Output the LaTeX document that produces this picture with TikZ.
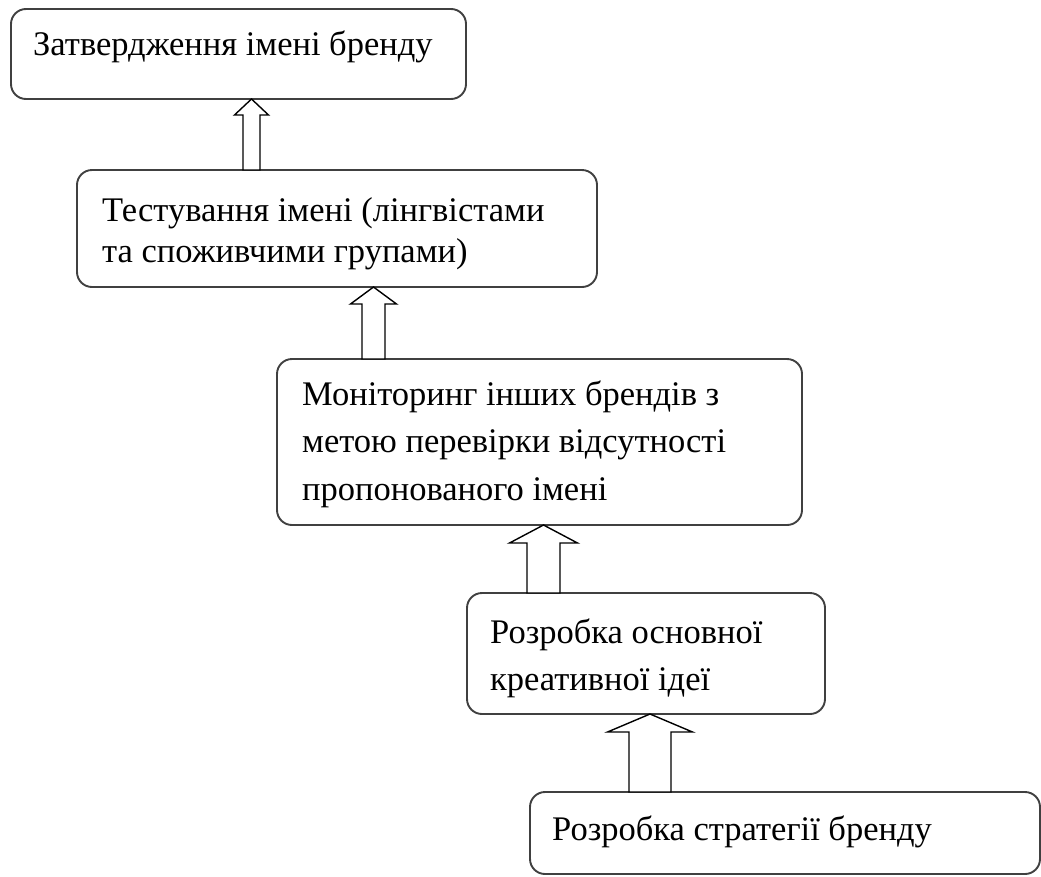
\documentclass[tikz,border=0pt]{standalone}
\usepackage{fontspec}
\setmainfont{Liberation Serif}
\usetikzlibrary{calc}
\tikzset{
  box/.style={draw=black!75, line width=1.9pt, rounded corners=15pt, inner sep=0pt, outer sep=0pt, anchor=north west, fill=white},
  txt/.style={anchor=base west, inner sep=0pt, font=\fontsize{34.5}{40}\selectfont, text=black},
  arr/.style={draw=black, line width=1.4pt, fill=white, line join=miter},
}
\newcommand\uparrowblock[6]{%
  \draw[arr] let \p1=(#2.south), \p2=(#3.north) in
    (#1pt-#4pt,\y2) -- (#1pt-#4pt,\y1-#6pt) -- (#1pt-#5pt,\y1-#6pt) -- (#1pt,\y1)
    -- (#1pt+#5pt,\y1-#6pt) -- (#1pt+#4pt,\y1-#6pt) -- (#1pt+#4pt,\y2) -- cycle;}
\begin{document}
\begin{tikzpicture}[x=1pt,y=-1pt]
\useasboundingbox[fill=white] (0,0) rectangle (1041,876);
\node[box, minimum width=455, minimum height=90] (b1) at (11,9) {};
\node[box, minimum width=520, minimum height=117] (b2) at (77,170) {};
\node[box, minimum width=525, minimum height=166] (b3) at (277,359) {};
\node[box, minimum width=358, minimum height=121] (b4) at (467,593) {};
\node[box, minimum width=510, minimum height=82] (b5) at (530,792) {};

\node[txt] (t1) at ($(b1.north west)+(22,46)$) {Затвердження імені бренду};
\node[txt] (t2a) at ($(b2.north west)+(25,51)$) {Тестування імені (лінгвістами};
\node[txt] (t2b) at ($(b2.north west)+(25,92)$) {та споживчими групами)};
\node[txt] (t3a) at ($(b3.north west)+(25,46)$) {Моніторинг інших брендів з};
\node[txt] (t3b) at ($(b3.north west)+(25,93)$) {метою перевірки відсутності};
\node[txt] (t3c) at ($(b3.north west)+(25,141)$) {пропонованого імені};
\node[txt] (t4a) at ($(b4.north west)+(23,50)$) {Розробка основної};
\node[txt] (t4b) at ($(b4.north west)+(23,97)$) {креативної ідеї};
\node[txt] (t5) at ($(b5.north west)+(22,48)$) {Розробка стратегії бренду};

\uparrowblock{251.5}{b1}{b2}{8.5}{17}{16}
\uparrowblock{373.5}{b2}{b3}{11.5}{23}{17}
\uparrowblock{543.5}{b3}{b4}{16.5}{34}{18}
\uparrowblock{650}{b4}{b5}{21}{42.5}{18}
\end{tikzpicture}
\end{document}
